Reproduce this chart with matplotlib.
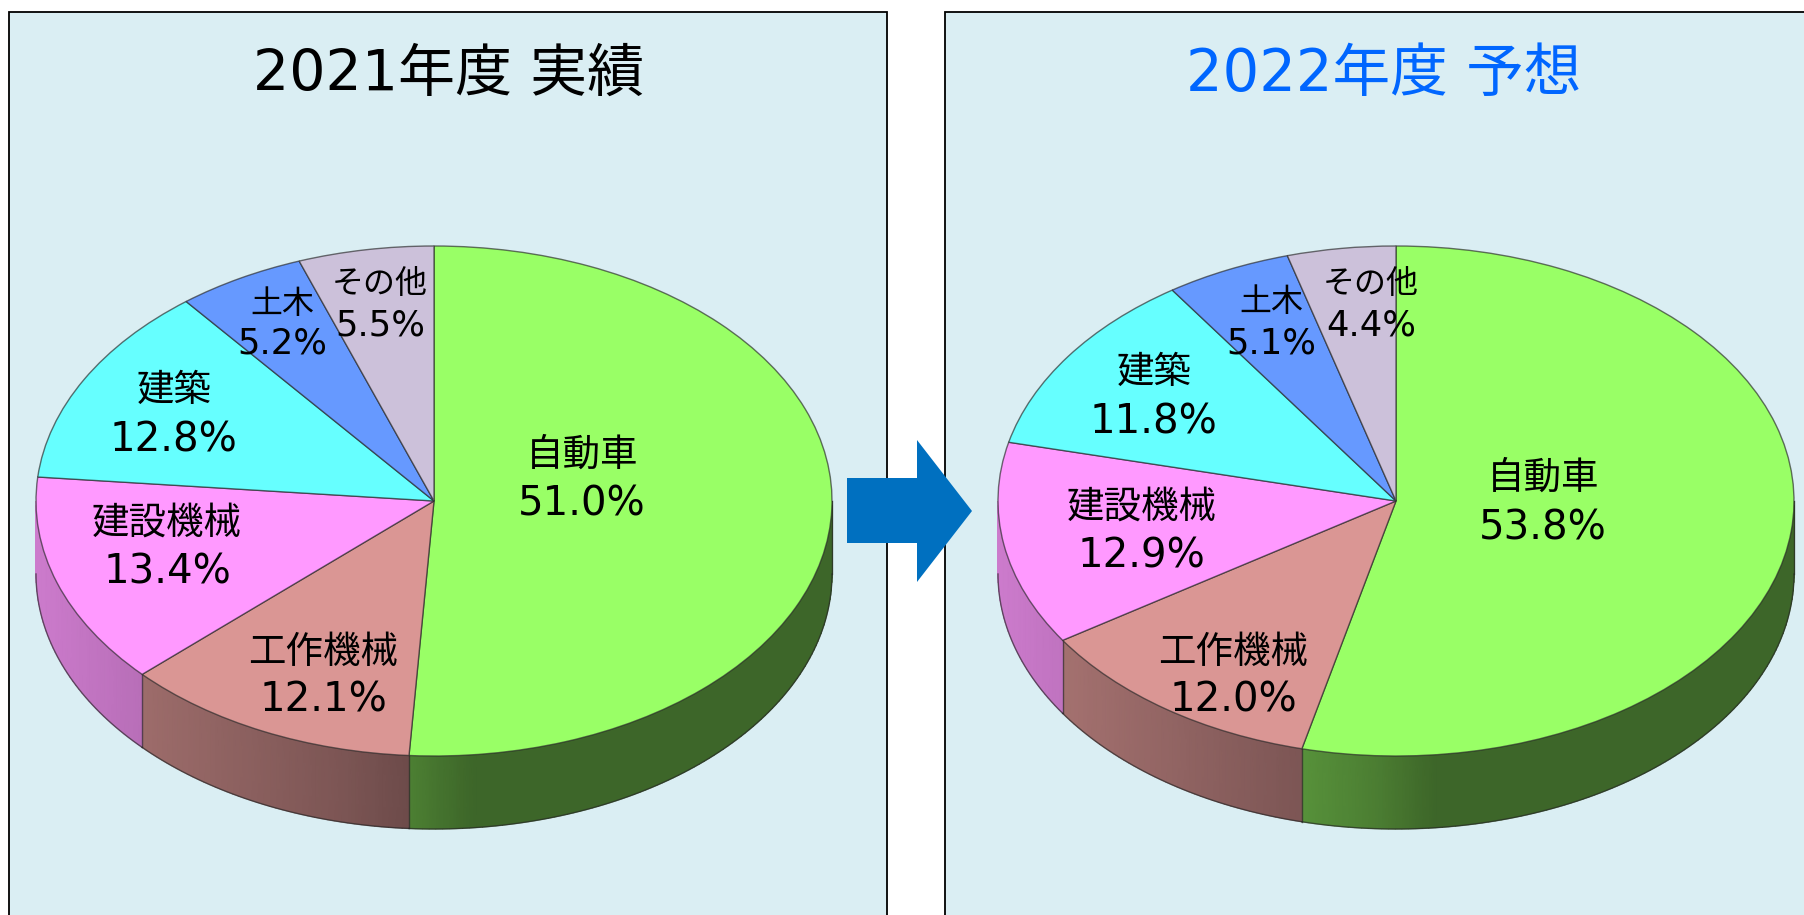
#!/usr/bin/env python3
"""
Share of demand by sector, fiscal 2021 actual vs fiscal 2022 forecast, as two 3D-look pies.
"""

import numpy as np
import matplotlib

matplotlib.use("Agg")
import matplotlib.pyplot as plt
from matplotlib.colors import LinearSegmentedColormap
from matplotlib.patches import Polygon, Rectangle

# Data
categories = ["自動車", "工作機械", "建設機械", "建築", "土木", "その他"]
values_2021 = [51.0, 12.1, 13.4, 12.8, 5.2, 5.5]
values_2022 = [53.8, 12.0, 12.9, 11.8, 5.1, 4.4]
title_2021 = "2021年度 実績"
title_2022 = "2022年度 予想"

# Slice colours, same order as categories
colors = ["#99FF66", "#DA9694", "#FF99FF", "#66FFFF", "#6699FF", "#CCC1DA"]

# Label centres in pixels: (x, name y, value y) for each category
label_pos_2021 = [
    (582, 456, 504),
    (323, 653, 700),
    (167, 524, 573),
    (174, 391, 440),
    (282, 304, 343),
    (380, 285, 326),
]
label_pos_2022 = [
    (1543, 479, 528),
    (1233, 653, 700),
    (1142, 508, 556),
    (1154, 373, 423),
    (1271, 303, 343),
    (1371, 284, 326),
]

W, H = 1804, 915
RX, RY, DEPTH = 398, 255, 73
EDGE = (0.15, 0.15, 0.15, 0.65)
FONT = ["DejaVu Sans", "Noto Sans CJK JP"]


def wall_shade(x):
    # Brightness of the side wall, from left (-1) to right (+1) of the pie
    return np.interp(x, [-1, -0.8, -0.235, -0.06, 0.1, 1], [0.8, 0.74, 0.57, 0.5, 0.4, 0.4])


def draw_pie(fig, values, cx, cy):
    """Draw one pie with its side wall in an axes of its own."""
    pad = 0.02
    d = DEPTH / RY
    ax = fig.add_axes(
        [
            (cx - RX * (1 + pad)) / W,
            1 - (cy + RY * (1 + pad) + DEPTH) / H,
            2 * RX * (1 + pad) / W,
            (2 * RY * (1 + pad) + DEPTH) / H,
        ],
        zorder=1,
    )
    ax.patch.set_alpha(0)

    # Slice boundaries, clockwise from 12 o'clock
    edges = np.radians(np.concatenate([[0], np.cumsum(values)]) / sum(values) * 360)
    for i, color in enumerate(colors):
        t0 = max(edges[i], np.pi / 2)
        t1 = min(edges[i + 1], 3 * np.pi / 2)
        if t1 <= t0:
            continue
        ts = np.linspace(t0, t1, max(2, int((t1 - t0) * 60)))
        # Side wall, shaded smoothly from the slice colour towards black
        cmap = LinearSegmentedColormap.from_list(f"wall{i}", ["black", color])
        xs = np.sin(ts)
        X = np.vstack([xs, xs])
        Y = np.vstack([np.cos(ts), np.cos(ts) - d])
        C = np.vstack([wall_shade(xs), wall_shade(xs)])
        ax.pcolormesh(X, Y, C, shading="gouraud", cmap=cmap, vmin=0, vmax=1, zorder=1)
        ax.plot(xs, np.cos(ts) - d, color=EDGE, lw=1, zorder=2)
        ax.plot(
            [np.sin(t0), np.sin(t0)],
            [np.cos(t0), np.cos(t0) - d],
            color=EDGE,
            lw=1,
            zorder=2,
        )

    # Top face, stretched to an ellipse below
    wedges, _ = ax.pie(
        values,
        colors=colors,
        startangle=90,
        counterclock=False,
        wedgeprops={"edgecolor": EDGE, "linewidth": 1},
    )
    for w in wedges:
        w.set_zorder(3)

    ax.set_aspect("auto")
    ax.set_xlim(-1 - pad, 1 + pad)
    ax.set_ylim(-1 - pad - d, 1 + pad)
    ax.axis("off")


def draw_labels(ax, values, positions):
    for i, (name, value, pos) in enumerate(zip(categories, values, positions)):
        x, y_name, y_value = pos
        small = i >= 4
        ax.text(x, y_name, name, ha="center", va="center", family=FONT, fontsize=23 if small else 27)
        ax.text(x, y_value, f"{value:.1f}%", ha="center", va="center", family=FONT, fontsize=25.5 if small else 29)


def main():
    fig = plt.figure(figsize=(W / 100, H / 100), dpi=100, facecolor="white")

    # Background panels, in pixel coordinates
    bg = fig.add_axes([0, 0, 1, 1], zorder=0)
    bg.set_xlim(0, W)
    bg.set_ylim(H, 0)
    bg.axis("off")
    panel = {"facecolor": "#DAEEF3", "edgecolor": "black", "linewidth": 1.3}
    bg.add_patch(Rectangle((9, 12), 878, 930, **panel))
    bg.add_patch(Rectangle((945, 12), 900, 930, **panel))

    draw_pie(fig, values_2021, 434, 501)
    draw_pie(fig, values_2022, 1396, 501)

    # Titles, labels and the arrow go on top
    top = fig.add_axes([0, 0, 1, 1], zorder=2)
    top.set_xlim(0, W)
    top.set_ylim(H, 0)
    top.axis("off")
    top.text(449, 75, title_2021, ha="center", va="center", family=FONT, fontsize=41, color="black")
    top.text(1384, 75, title_2022, ha="center", va="center", family=FONT, fontsize=41.5, color="#0066FF")
    draw_labels(top, values_2021, label_pos_2021)
    draw_labels(top, values_2022, label_pos_2022)

    arrow = [(847, 478), (917, 478), (917, 440), (972, 511), (917, 582), (917, 543), (847, 543)]
    top.add_patch(Polygon(arrow, closed=True, facecolor="#0070C0", edgecolor="none"))

    fig.savefig("out.png", dpi=100)


if __name__ == "__main__":
    main()
